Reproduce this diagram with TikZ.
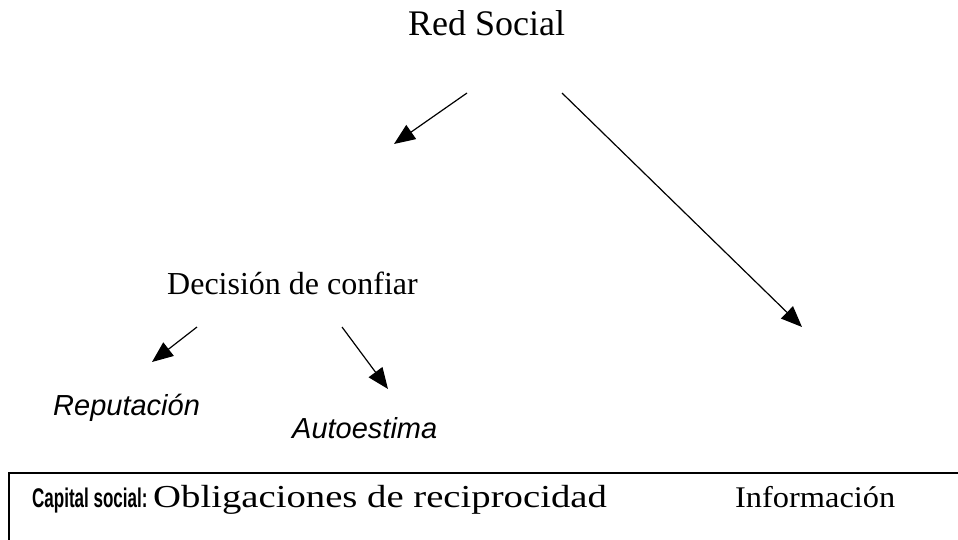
\documentclass[tikz,border=0pt]{standalone}
\usepackage{fontspec}
\setmainfont{Liberation Serif}
\newfontfamily\arialfont{Liberation Sans}
\newfontfamily\arialnarrow[FakeStretch=0.63]{Liberation Sans}
\newfontfamily\timeswide[FakeStretch=1.21]{Liberation Serif}
\newfontfamily\timesinfo[FakeStretch=1.08]{Liberation Serif}
\usetikzlibrary{shapes,arrows.meta,calc}

\begin{document}
\begin{tikzpicture}[x=1pt, y=-1pt,
  texto/.style={inner sep=0pt, anchor=base west},
  flecha/.style={-{Triangle[length=21pt,width=17pt]}, line width=1.2pt}]
\useasboundingbox (0,0) rectangle (958,539);

% Textos
\node[texto, font=\fontsize{36}{40}\selectfont] (red) at (408,35) {Red Social};
\node[texto, font=\fontsize{32}{36}\selectfont] (decision) at (167,294) {Decisión de confiar};
\node[texto, font=\arialfont\itshape\fontsize{29}{33}\selectfont] (reputacion) at (53,415) {Reputación};
\node[texto, font=\arialfont\itshape\fontsize{29}{33}\selectfont] (autoestima) at (292,438) {Autoestima};

% Caja de abajo
\begin{scope}
\clip (0,0) rectangle (958,539);
\draw[line width=1.6pt] (9,473) rectangle (990,580);
\end{scope}
\node[texto, font=\arialnarrow\bfseries\fontsize{27}{31}\selectfont] (capital) at (32,507) {Capital social:};
\node[texto, font=\timeswide\fontsize{32}{36}\selectfont] (obligaciones) at (153,507) {Obligaciones de reciprocidad};
\node[texto, font=\timesinfo\fontsize{30}{34}\selectfont] (informacion) at (735,507) {Información};

% Extremos de las flechas
\coordinate (redI) at (467,93);
\coordinate (redIfin) at (394,144);
\coordinate (redD) at (562,93);
\coordinate (redDfin) at (802,327);
\coordinate (decI) at (197,327);
\coordinate (decIfin) at (152,362);
\coordinate (decD) at (342,327);
\coordinate (decDfin) at (388,389);

% Flechas
\draw[flecha] (redI) -- (redIfin);
\draw[flecha] (redD) -- (redDfin);
\draw[flecha] (decI) -- (decIfin);
\draw[flecha] (decD) -- (decDfin);
\end{tikzpicture}
\end{document}
